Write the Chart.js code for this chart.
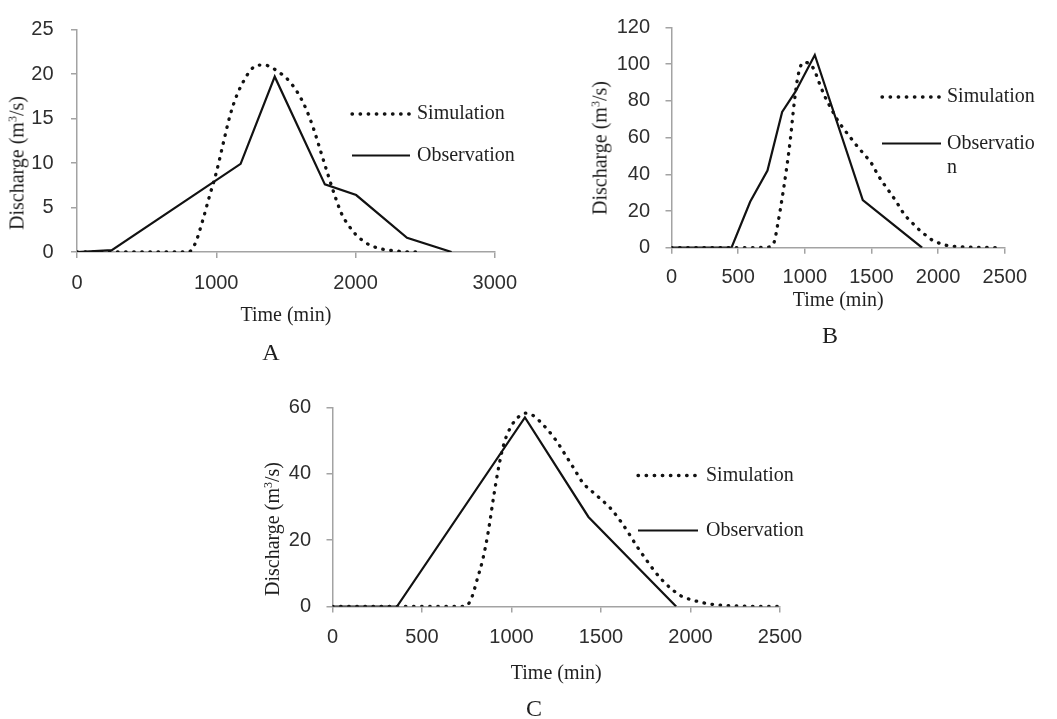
<!DOCTYPE html>
<html>
<head>
<meta charset="utf-8">
<title>Discharge hydrographs A, B, C</title>
<script src="https://cdn.jsdelivr.net/npm/chart.js@4.4.1/dist/chart.umd.min.js"></script>
<style>
  html, body { margin: 0; padding: 0; background: #fff; }
  body { position: relative; width: 1057px; height: 719px; overflow: hidden; font-family: 'Liberation Serif', 'Times New Roman', serif; color: #1f1f1f; }
  canvas { position: absolute; }
  .ytitle { position: absolute; font-size: 20px; white-space: nowrap; transform: translate(-50%, -50%) rotate(-90deg); }
  .ytitle sup { font-size: 12px; vertical-align: 7px; line-height: 0; }
  .letter { position: absolute; font-size: 24px; transform: translate(-50%, -50%); }
</style>
</head>
<body>
<canvas id="chartA" width="530" height="345" style="left:0;top:0"></canvas>
<canvas id="chartB" width="509" height="345" style="left:530px;top:0"></canvas>
<canvas id="chartC" width="580" height="339" style="left:250px;top:380px"></canvas>

<div class="ytitle" style="left:17px;top:163px">Discharge (m<sup>3</sup>/s)</div>
<div class="ytitle" style="left:600px;top:148px">Discharge (m<sup>3</sup>/s)</div>
<div class="ytitle" style="left:272px;top:529px">Discharge (m<sup>3</sup>/s)</div>

<div class="letter" style="left:271px;top:352px">A</div>
<div class="letter" style="left:830px;top:335px">B</div>
<div class="letter" style="left:534px;top:708px">C</div>

<script>
// Hydrographs: simulated vs observed discharge, three events
(function () {
  'use strict';

  // ---- data (time in min, discharge in m3/s) ----
  const A_OBS_T = [0, 250, 1175, 1420, 1780, 2005, 2370, 2690];
  const A_OBS_Q = [0, 0.2, 9.9, 19.7, 7.6, 6.4, 1.6, 0];
  const A_SIM_T = [0, 100, 200, 300, 400, 500, 600, 700, 800, 850, 900, 950, 1000, 1050, 1100, 1150, 1200, 1250, 1300, 1350, 1400, 1450, 1500, 1550, 1600, 1650, 1700, 1750, 1800, 1850, 1900, 1950, 2000, 2050, 2100, 2150, 2200, 2300, 2400, 2460];
  const A_SIM_Q = [0, 0, 0, 0, 0, 0, 0, 0, 0, 1.0, 3.4, 6.2, 8.9, 12.2, 15.4, 17.7, 19.3, 20.5, 21.0, 21.0, 20.7, 20.2, 19.6, 18.7, 17.5, 15.9, 13.8, 11.3, 8.8, 6.4, 4.3, 3.0, 2.0, 1.3, 0.8, 0.5, 0.3, 0.1, 0, 0];
  const A_X_TICKS = [0, 3000, 1000];
  const A_Y_TICKS = [0, 25, 5];

  const B_OBS_T = [0, 450, 590, 720, 830, 930, 1075, 1435, 1880];
  const B_OBS_Q = [0, 0, 25, 42, 74, 85, 105, 26, 0];
  const B_SIM_T = [0, 100, 200, 300, 400, 500, 600, 700, 740, 770, 800, 830, 860, 890, 920, 950, 990, 1030, 1070, 1110, 1150, 1200, 1250, 1300, 1350, 1400, 1450, 1500, 1550, 1600, 1650, 1700, 1750, 1800, 1850, 1900, 1950, 2000, 2050, 2100, 2200, 2300, 2400, 2480];
  const B_SIM_Q = [0, 0, 0, 0, 0, 0, 0, 0.2, 0.5, 3, 14, 27, 41.5, 58, 78.5, 94, 101, 100.5, 97, 89.5, 82.5, 75.5, 69, 64, 59.3, 54.7, 50.5, 46, 39.5, 34, 29, 23.5, 17.8, 14, 10.3, 7.2, 4.4, 2.7, 1.5, 0.9, 0.4, 0.2, 0.1, 0];
  const B_X_TICKS = [0, 2500, 500];
  const B_Y_TICKS = [0, 120, 20];

  const C_OBS_T = [0, 360, 1075, 1430, 1920];
  const C_OBS_Q = [0, 0, 57, 27, 0];
  const C_SIM_T = [0, 100, 200, 300, 400, 500, 600, 700, 740, 760, 780, 810, 840, 870, 900, 930, 960, 1000, 1040, 1080, 1120, 1180, 1250, 1300, 1350, 1400, 1450, 1500, 1550, 1600, 1650, 1700, 1750, 1800, 1850, 1900, 1950, 2000, 2050, 2100, 2200, 2300, 2400, 2490];
  const C_SIM_Q = [0, 0, 0, 0, 0, 0, 0, 0, 0, 0.8, 3, 8.5, 14.3, 22.5, 33, 42.5, 49.5, 54.5, 57.2, 58.3, 57.6, 54.6, 50, 45.8, 41.5, 37.2, 34.7, 32.3, 29.8, 26.4, 22.5, 18.2, 14.3, 10.6, 7.5, 5.0, 3.1, 2.1, 1.4, 0.8, 0.3, 0.1, 0, 0];
  const C_X_TICKS = [0, 2500, 500];
  const C_Y_TICKS = [0, 60, 20];

  const SERIES_LABELS = ['Simulation', 'Observation'];

  const INK = '#121212';
  const AXIS = '#a3a3a3';
  const TICK_TEXT = '#2e2e2e';

  Chart.defaults.font.family = "'Liberation Sans', Arial, sans-serif";
  Chart.defaults.color = TICK_TEXT;

  function pairs(ts, qs) {
    return ts.map(function (t, i) { return { x: t, y: qs[i] }; });
  }

  function plain(v) { return String(v); }

  // draws the legend rows at fixed spots, using each dataset's own stroke
  const sideLegend = {
    id: 'sideLegend',
    afterDraw: function (chart, args, opts) {
      const ctx = chart.ctx;
      ctx.save();
      opts.items.forEach(function (item, i) {
        const ds = chart.data.datasets[i];
        ctx.save();
        ctx.strokeStyle = ds.borderColor;
        ctx.lineWidth = ds.borderWidth;
        ctx.lineCap = ds.borderCapStyle || 'butt';
        ctx.setLineDash(ds.borderDash || []);
        ctx.beginPath();
        ctx.moveTo(opts.x0, item.y);
        ctx.lineTo(opts.x1, item.y);
        ctx.stroke();
        ctx.restore();
        ctx.font = opts.font;
        ctx.fillStyle = opts.color;
        ctx.textBaseline = 'middle';
        ctx.textAlign = 'left';
        item.text.forEach(function (line, j) {
          ctx.fillText(line, opts.tx, item.y + j * opts.lineGap);
        });
      });
      ctx.restore();
    }
  };

  function makeChart(id, g) {
    const canvas = document.getElementById(id);
    return new Chart(canvas, {
      type: 'line',
      data: {
        datasets: [
          {
            label: SERIES_LABELS[0],
            data: pairs(g.simT, g.simQ),
            borderColor: INK,
            borderWidth: 3.3,
            borderDash: [0.5, 7.6],
            borderCapStyle: 'round',
            cubicInterpolationMode: 'monotone',
            pointRadius: 0,
            fill: false,
          },
          {
            label: SERIES_LABELS[1],
            data: pairs(g.obsT, g.obsQ),
            borderColor: INK,
            borderWidth: 2.2,
            borderJoinStyle: 'miter',
            tension: 0,
            pointRadius: 0,
            fill: false,
          },
        ],
      },
      options: {
        responsive: false,
        animation: false,
        events: [],
        layout: {
          autoPadding: false,
          padding: { left: 0, top: g.top, right: canvas.width - g.right, bottom: 0 },
        },
        plugins: {
          legend: { display: false },
          tooltip: { enabled: false },
          sideLegend: {
            x0: g.legend.x0, x1: g.legend.x1, tx: g.legend.tx,
            lineGap: 24.5,
            font: "20px 'Liberation Serif', 'Times New Roman', serif",
            color: '#1f1f1f',
            items: [
              { y: g.legend.y[0], text: g.legend.text[0] },
              { y: g.legend.y[1], text: g.legend.text[1] },
            ],
          },
        },
        scales: {
          x: {
            type: 'linear',
            min: g.xTicks[0], max: g.xTicks[1],
            afterFit: function (scale) { scale.height = canvas.height - g.bottom; },
            border: { color: AXIS, width: 1.5 },
            grid: { drawOnChartArea: false, drawTicks: true, tickLength: 6, color: AXIS, lineWidth: 1.5 },
            ticks: { stepSize: g.xTicks[2], autoSkip: false, maxRotation: 0, padding: g.xPad, font: { size: 20 }, color: TICK_TEXT, callback: plain },
            title: {
              display: true,
              text: 'Time (min)',
              color: '#1f1f1f',
              font: { family: "'Liberation Serif', 'Times New Roman', serif", size: 20 },
              padding: { top: 0, bottom: g.titlePad },
            },
          },
          y: {
            type: 'linear',
            min: g.yTicks[0], max: g.yTicks[1],
            afterFit: function (scale) { scale.width = g.left; },
            border: { color: AXIS, width: 1.5 },
            grid: { drawOnChartArea: false, drawTicks: true, tickLength: 6, color: AXIS, lineWidth: 1.5 },
            ticks: { stepSize: g.yTicks[2], padding: g.yPad, font: { size: 20 }, color: TICK_TEXT, callback: plain },
          },
        },
      },
      plugins: [sideLegend],
    });
  }

  makeChart('chartA', {
    obsT: A_OBS_T, obsQ: A_OBS_Q, simT: A_SIM_T, simQ: A_SIM_Q,
    xTicks: A_X_TICKS, yTicks: A_Y_TICKS,
    left: 77, top: 18, right: 508, bottom: 252,
    xPad: 13, yPad: 17.5, titlePad: 17,
    legend: { x0: 352, x1: 410, tx: 417, y: [114, 155.5], text: [['Simulation'], ['Observation']] },
  });

  makeChart('chartB', {
    obsT: B_OBS_T, obsQ: B_OBS_Q, simT: B_SIM_T, simQ: B_SIM_Q,
    xTicks: B_X_TICKS, yTicks: B_Y_TICKS,
    left: 141.5, top: 16.5, right: 491.5, bottom: 247.7,
    xPad: 12, yPad: 15.5, titlePad: 32.5,
    legend: { x0: 352, x1: 411, tx: 417, y: [97, 143.5], text: [['Simulation'], ['Observatio', 'n']] },
  });

  makeChart('chartC', {
    obsT: C_OBS_T, obsQ: C_OBS_Q, simT: C_SIM_T, simQ: C_SIM_Q,
    xTicks: C_X_TICKS, yTicks: C_Y_TICKS,
    left: 82.5, top: 22.7, right: 530, bottom: 226.5,
    xPad: 13, yPad: 15.5, titlePad: 33,
    legend: { x0: 388, x1: 448, tx: 456, y: [95.5, 150.5], text: [['Simulation'], ['Observation']] },
  });
})();
</script>
</body>
</html>
